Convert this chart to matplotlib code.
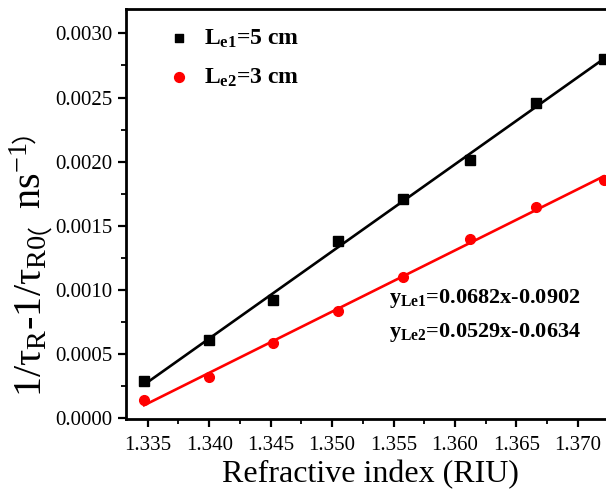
import numpy as np
import matplotlib
matplotlib.use('Agg')
import matplotlib.pyplot as plt
from matplotlib.ticker import MultipleLocator, FormatStrFormatter

plt.rcParams['font.family'] = ['Liberation Serif', 'Noto Sans CJK SC', 'DejaVu Sans']
plt.rcParams['mathtext.fontset'] = 'custom'
plt.rcParams['mathtext.rm'] = 'Liberation Serif'
plt.rcParams['mathtext.it'] = 'Liberation Serif:italic'
plt.rcParams['mathtext.bf'] = 'Liberation Serif:bold'

# refractive index of the samples
ri = [1.3347, 1.3400, 1.3452, 1.3505, 1.3558, 1.3612, 1.3666, 1.3721]
# 1/tau_R - 1/tau_R0 (ns^-1)
le1 = [0.00029, 0.00061, 0.00092, 0.00138, 0.00171, 0.00201, 0.00246, 0.00280]
le2 = [0.00014, 0.00032, 0.00059, 0.00084, 0.00110, 0.00140, 0.00165, 0.00186]
labels = ['L$_\\mathbf{e1}$=5 cm', 'L$_\\mathbf{e2}$=3 cm']
equations = ['y$_\\mathbf{Le1}$=0.0682x-0.0902', 'y$_\\mathbf{Le2}$=0.0529x-0.0634']
# y label in pieces: mathtext can't draw the full-width brackets
ylabel_parts = ['1/τ$_\\mathrm{R}$-1/τ$_\\mathrm{R0}$', '（', 'ns$^{-1}$', '）']
ylabel_sizes = [29, 18, 29, 18]
ylabel_x = [41, 32, 41, 32]   # baseline x in pixels (brackets sit low in the CJK font)

fig = plt.figure(figsize=(6.06, 4.95), dpi=100)
# axes runs past the right edge, like the cropped original
ax = fig.add_axes([126 / 606, 76 / 495, 504 / 606, 410 / 495])

x = np.array(ri)
for y, col, mk, ms in [(le1, 'black', 's', 6.5), (le2, 'red', 'o', 7)]:
    p = np.polyfit(x, y, 1)
    xf = np.array([x[0], x[-1]])
    ax.plot(xf, np.polyval(p, xf), color=col, lw=1.9, zorder=2)
    ax.plot(x, y, ls='none', marker=mk, ms=ms, color=col, zorder=3)

h1 = ax.scatter([], [], marker='s', s=40, color='black')
h2 = ax.scatter([], [], marker='o', s=50, color='red')
ax.legend([h1, h2], labels, loc='upper left', bbox_to_anchor=(0.0635, 0.978),
          frameon=False, prop={'weight': 'bold', 'size': 17},
          handlelength=1.0, handletextpad=0.55, labelspacing=0.7,
          borderpad=0.4, borderaxespad=0)

ax.text(0.522, 0.295, equations[0], transform=ax.transAxes, fontsize=16,
        fontweight='bold', va='center')
ax.text(0.522, 0.212, equations[1], transform=ax.transAxes, fontsize=16,
        fontweight='bold', va='center')

ax.set_xlim(1.33323, 1.37424)
ax.set_ylim(-0.000005, 0.00319)
ax.xaxis.set_major_locator(MultipleLocator(0.005))
ax.xaxis.set_minor_locator(MultipleLocator(0.0025))
ax.yaxis.set_major_locator(MultipleLocator(0.0005))
ax.yaxis.set_minor_locator(MultipleLocator(0.00025))
ax.xaxis.set_major_formatter(FormatStrFormatter('%.3f'))
ax.yaxis.set_major_formatter(FormatStrFormatter('%.4f'))
ax.tick_params(which='major', direction='out', length=6, width=1.6, labelsize=15)
ax.tick_params(which='minor', direction='out', length=3.5, width=1.3)
ax.tick_params(axis='x', pad=6)
for s in ax.spines.values():
    s.set_linewidth(2)
ax.spines['right'].set_visible(False)

ax.set_xlabel('Refractive index (RIU)', fontsize=23, va='baseline')
ax.xaxis.set_label_coords((370 - 126) / 504, (495 - 482 - 76) / 410)

# stack the y label pieces bottom-to-top
prev = fig.text(ylabel_x[0] / 606, (495 - 397) / 495, ylabel_parts[0], fontsize=ylabel_sizes[0],
                rotation=90, rotation_mode='anchor', ha='left', va='baseline')
for part, size, bx in zip(ylabel_parts[1:], ylabel_sizes[1:], ylabel_x[1:]):
    prev = ax.annotate(part, xy=(bx, 1), xycoords=('figure pixels', prev), fontsize=size,
                       rotation=90, rotation_mode='anchor', ha='left', va='baseline')

fig.savefig('out.png', dpi=100)
